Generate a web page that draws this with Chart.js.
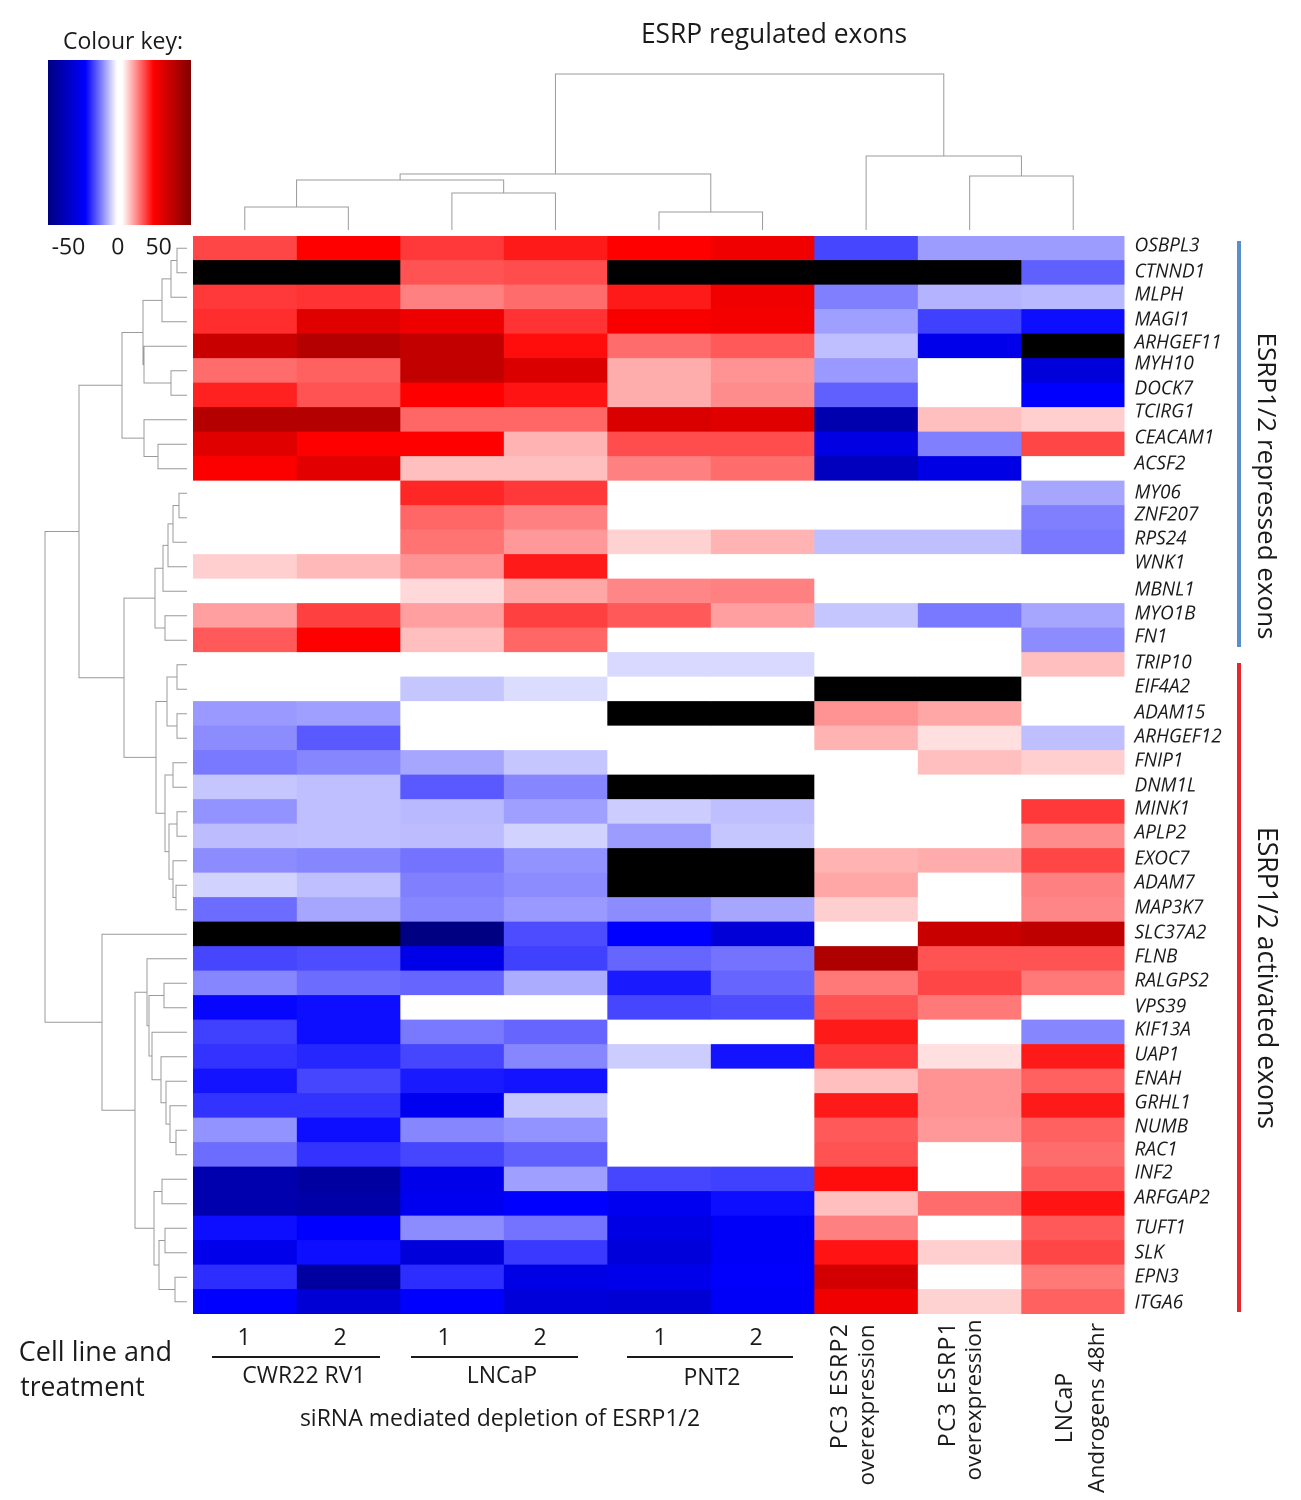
<!DOCTYPE html>
<html>
<head>
<meta charset="utf-8">
<title>ESRP regulated exons</title>
<script src="https://cdn.jsdelivr.net/npm/chart.js@4"></script>
<style>
  html, body { margin: 0; background: #fff; }
  #page { position: relative; width: 1301px; height: 1500px; overflow: hidden; font-family: "Open Sans", sans-serif; color: #1a1a1a; }
  canvas { position: absolute; }
  .t { position: absolute; white-space: nowrap; transform: translate(-50%, -50%); font-size: 23px; line-height: 1; }
  .up { transform: translate(-50%, -50%) rotate(-90deg); }
  .down { transform: translate(-50%, -50%) rotate(90deg); }
  .rule { position: absolute; }
</style>
</head>
<body>
<div id="page">
  <canvas id="heatmap" width="1301" height="1500" style="left:0;top:0"></canvas>
  <canvas id="colTree" width="932" height="170" style="left:193px;top:60px"></canvas>
  <canvas id="rowTree" width="160" height="1078" style="left:27px;top:236px"></canvas>
  <canvas id="colourKey" width="240" height="262" style="left:0;top:0"></canvas>

  <div class="t" style="left:123px;top:40px">Colour key:</div>
  <div class="t" style="left:774px;top:33px;font-size:26.4px">ESRP regulated exons</div>

  <div class="rule" style="left:1237px;top:241px;width:4px;height:406px;background:#5b8fc9"></div>
  <div class="rule" style="left:1237px;top:663px;width:4px;height:649px;background:#e8262e"></div>
  <div class="t down" style="left:1268px;top:486px;font-size:26px">ESRP1/2 repressed exons</div>
  <div class="t down" style="left:1268px;top:978px;font-size:26.6px">ESRP1/2 activated exons</div>

  <div class="t" style="left:95.5px;top:1350px;font-size:27px">Cell line and</div>
  <div class="t" style="left:82.5px;top:1386px;font-size:26.5px">treatment</div>

  <div class="t" style="left:244px;top:1336px">1</div>
  <div class="t" style="left:340px;top:1336px">2</div>
  <div class="t" style="left:444px;top:1336px">1</div>
  <div class="t" style="left:540px;top:1336px">2</div>
  <div class="t" style="left:660px;top:1336px">1</div>
  <div class="t" style="left:756px;top:1336px">2</div>

  <div class="rule" style="left:212px;top:1356px;width:168px;height:2px;background:#1a1a1a"></div>
  <div class="rule" style="left:411px;top:1356px;width:167px;height:2px;background:#1a1a1a"></div>
  <div class="rule" style="left:627px;top:1356px;width:166px;height:2px;background:#1a1a1a"></div>

  <div class="t" style="left:304px;top:1374px">CWR22 RV1</div>
  <div class="t" style="left:502px;top:1374px">LNCaP</div>
  <div class="t" style="left:712px;top:1376px">PNT2</div>
  <div class="t" style="left:500px;top:1417px">siRNA mediated depletion of ESRP1/2</div>

  <div class="t up" style="left:838px;top:1386px;font-size:23px;letter-spacing:1.4px">PC3 ESRP2</div>
  <div class="t up" style="left:866px;top:1405px;font-size:22.5px">overexpression</div>
  <div class="t up" style="left:946px;top:1384px;font-size:23px;letter-spacing:1.4px">PC3 ESRP1</div>
  <div class="t up" style="left:973px;top:1400px;font-size:22.5px">overexpression</div>
  <div class="t up" style="left:1063px;top:1408px;font-size:23px">LNCaP</div>
  <div class="t up" style="left:1096px;top:1408px;font-size:22.7px">Androgens 48hr</div>
</div>

<script>
const genes = ['OSBPL3', 'CTNND1', 'MLPH', 'MAGI1', 'ARHGEF11', 'MYH10', 'DOCK7', 'TCIRG1', 'CEACAM1', 'ACSF2',
  'MY06', 'ZNF207', 'RPS24', 'WNK1', 'MBNL1', 'MYO1B', 'FN1', 'TRIP10', 'EIF4A2', 'ADAM15', 'ARHGEF12', 'FNIP1',
  'DNM1L', 'MINK1', 'APLP2', 'EXOC7', 'ADAM7', 'MAP3K7', 'SLC37A2', 'FLNB', 'RALGPS2', 'VPS39', 'KIF13A', 'UAP1',
  'ENAH', 'GRHL1', 'NUMB', 'RAC1', 'INF2', 'ARFGAP2', 'TUFT1', 'SLK', 'EPN3', 'ITGA6'];

const samples = ['CWR22 1', 'CWR22 2', 'LNCaP 1', 'LNCaP 2', 'PNT2 1', 'PNT2 2', 'PC3 ESRP2', 'PC3 ESRP1', 'LNCaP Androgens'];

// one row per gene, one value per sample; null = no data (black)
const psi = [
  [29, 40, 31, 36, 40, 45, -29, -15.5, -15.5],
  [null, null, 27, 28, null, null, null, null, -25],
  [31, 32, 20, 23, 36, 45, -20, -12, -11],
  [33, 51, 46, 32, 42, 44, -15, -30, -38],
  [59, 66, 61, 38, 23, 26, -10, -47, null],
  [23, 25, 61, 53, 13, 17, -16, 0, -53],
  [35, 27, 40, 37, 13, 18, -25, 0, -40],
  [66, 66, 24, 24, 53, 51, -68, 10, 7.5],
  [51, 40, 40, 12, 28, 28, -50, -20, 29],
  [41, 50, 10, 10, 20, 23, -63, -49, 0],
  [0, 0, 34, 31, 0, 0, 0, 0, -14],
  [0, 0, 24, 20, 0, 0, 0, 0, -20],
  [0, 0, 22, 16, 7, 12, -10, -10, -21],
  [7.5, 11, 17, 36, 0, 0, 0, 0, 0],
  [0, 0, 6, 14, 19, 20, 0, 0, 0],
  [15, 30, 15, 30, 26, 15, -9, -21, -14],
  [26, 40, 10, 24, 0, 0, 0, 0, -18],
  [0, 0, 0, 0, -6, -6, 0, 0, 10],
  [0, 0, -9, -5.5, 0, 0, null, null, 0],
  [-16, -15, 0, 0, null, null, 17, 14, 0],
  [-18, -26, 0, 0, 0, 0, 12, 5, -10],
  [-21, -19, -14, -9, 0, 0, 0, 10, 7.5],
  [-9, -10, -26, -19, null, null, 0, 0, 0],
  [-17, -10, -11, -15, -8, -10, 0, 0, 31],
  [-10.5, -10, -10.5, -7, -15.5, -9, 0, 0, 18],
  [-18, -19, -22, -17, null, null, 12, 13, 29],
  [-7, -10, -20, -18, null, null, 14, 0, 20],
  [-23, -14, -19, -16, -18, -14, 7.5, 0, 19],
  [null, null, -84, -28, -40, -54, 0, 59, 63],
  [-29, -28, -48, -30, -24, -22, 68, 27, 27],
  [-19, -23, -24, -13, -36, -24, 21, 29, 21],
  [-39, -38, 0, 0, -29, -28, 27, 21, 0],
  [-30, -38, -21, -24, 0, 0, 36, 0, -19],
  [-32, -34, -29, -19, -8, -37, 31, 5, 36],
  [-37, -29, -36, -37, 0, 0, 10, 17, 25],
  [-32, -32, -45, -9, 0, 0, 36, 17, 36],
  [-17, -38, -19, -17, 0, 0, 26, 16, 25],
  [-23, -32, -29, -25, 0, 0, 27, 0, 23],
  [-68, -73, -47, -15, -29, -30, 38, 0, 26],
  [-68, -71, -45, -40, -45, -38, 10, 23, 37],
  [-38, -40, -18, -22, -49, -42, 20, 0, 26],
  [-47, -38, -53, -31, -53, -42, 37, 7.5, 29],
  [-33, -73, -33, -49, -47, -41, 56, 0, 21],
  [-40, -55, -40, -53, -55, -42, 45, 7, 25]
];

// gene labels sit a little off the row centres in the figure (row units)
const geneLabelRows = [0.41, 1.47, 2.41, 3.43, 4.37, 5.22, 6.24, 7.18, 8.24, 9.31, 10.49, 11.39, 12.37, 13.35, 14.45,
  15.43, 16.37, 17.43, 18.41, 19.47, 20.45, 21.43, 22.45, 23.39, 24.37, 25.43, 26.41, 27.43, 28.45, 29.43, 30.41,
  31.47, 32.41, 33.43, 34.41, 35.39, 36.37, 37.31, 38.24, 39.27, 40.49, 41.51, 42.49, 43.55];

// hclust style merges: negative = leaf (1 based), positive = earlier merge, then height
const colMerges = [
  [-1, -2, 23], [-3, -4, 37], [1, 2, 50], [-5, -6, 18], [3, 4, 56],
  [-8, -9, 54], [-7, 6, 74], [5, 7, 156]
];

const rowMerges = [
  [-1, -2, 10], [1, -3, 16], [2, -4, 25], [-6, -7, 16], [-5, 4, 43], [3, 5, 44], [-9, -10, 29], [-8, 7, 43], [6, 8, 65],
  [-11, -12, 8], [10, -13, 14], [11, -14, 19], [12, -15, 24], [-16, -17, 22], [13, 14, 32],
  [-18, -19, 10], [-20, -21, 10], [16, 17, 20], [-22, -23, 14], [-24, -25, 10], [-27, -28, 11], [-26, 21, 14],
  [20, 22, 18], [19, 23, 22], [18, 24, 31], [15, 25, 63], [9, 26, 108],
  [-31, -32, 23], [-37, -38, 11], [-36, 29, 17], [-35, 30, 21], [-34, 31, 26], [-33, 32, 35], [28, 33, 38], [-30, 34, 40],
  [-39, -40, 25], [-41, -42, 22], [-43, -44, 12], [37, 38, 28], [36, 39, 33], [35, 40, 52], [-29, 41, 85], [27, 42, 142]
];

const keyTicks = ['-50', '0', '50'];
const keyTickRows = [-60, -2, 46]; // the key's labels are shifted left of their tick marks in the figure

function mix(a, b, t) {
  return a.map((v, i) => Math.round(v + (b[i] - v) * t));
}

// white -> pure at +/-40 -> dark at +/-84
function colourFor(v) {
  if (v === null) return '#000';
  const hue = v < 0 ? [0, 0, 255] : [255, 0, 0];
  const dark = v < 0 ? [0, 0, 130] : [130, 0, 0];
  const abs = Math.abs(v);
  const c = abs <= 40 ? mix([255, 255, 255], hue, abs / 40) : mix(hue, dark, Math.min(1, (abs - 40) / 44));
  return `rgb(${c[0]}, ${c[1]}, ${c[2]})`;
}

// turn merges into one 4 point polyline each
function treeSegments(merges) {
  const nodes = merges.map(() => null);
  const read = ref => (ref < 0 ? { pos: -ref - 0.5, h: 0 } : nodes[ref - 1]);
  return merges.map((m, i) => {
    const a = read(m[0]);
    const b = read(m[1]);
    nodes[i] = { pos: (a.pos + b.pos) / 2, h: m[2] };
    return [[a.pos, a.h], [a.pos, m[2]], [b.pos, m[2]], [b.pos, b.h]];
  });
}

Chart.defaults.animation = false;
Chart.defaults.responsive = false;
Chart.defaults.devicePixelRatio = 2;
Chart.defaults.font.family = '"Open Sans", sans-serif';
Chart.defaults.plugins.legend.display = false;
Chart.defaults.plugins.tooltip.enabled = false;

new Chart(document.getElementById('heatmap'), {
  type: 'bar',
  data: {
    labels: genes,
    datasets: samples.map((name, c) => ({
      label: name,
      data: genes.map(() => [c, c + 1]),
      backgroundColor: psi.map(row => colourFor(row[c])),
      borderWidth: 0,
      grouped: false,
      barPercentage: 1,
      categoryPercentage: 1
    }))
  },
  options: {
    indexAxis: 'y',
    layout: { padding: { left: 193, top: 236, bottom: 186 } },
    scales: {
      x: { type: 'linear', min: 0, max: 9, display: false },
      y: { display: false },
      geneAxis: {
        type: 'linear',
        position: 'right',
        min: 0,
        max: 44,
        reverse: true,
        offset: false, // picked up from the bar index axis defaults otherwise
        border: { display: false },
        grid: { display: false, drawTicks: false },
        afterBuildTicks: axis => { axis.ticks = geneLabelRows.map(v => ({ value: v })); },
        afterFit: axis => { axis.width = 176.5; },
        ticks: {
          autoSkip: false,
          padding: 10,
          color: '#1a1a1a',
          font: { size: 19, style: 'italic' },
          callback: (value, i) => genes[i]
        }
      }
    }
  }
});

function treeChart(id, segments, xScale, yScale, toPoint) {
  new Chart(document.getElementById(id), {
    type: 'scatter',
    data: {
      datasets: segments.map(seg => ({
        data: seg.map(toPoint),
        showLine: true,
        pointRadius: 0,
        borderWidth: 1,
        borderColor: '#9a9a9a',
        clip: false
      }))
    },
    options: { scales: { x: xScale, y: yScale } }
  });
}

treeChart('colTree', treeSegments(colMerges),
  { type: 'linear', min: 0, max: 9, display: false },
  { type: 'linear', min: 0, max: 170, display: false },
  p => ({ x: p[0], y: p[1] }));

treeChart('rowTree', treeSegments(rowMerges),
  { type: 'linear', min: 0, max: 160, reverse: true, display: false },
  { type: 'linear', min: 0, max: 44, reverse: true, display: false },
  p => ({ x: p[1], y: p[0] }));

new Chart(document.getElementById('colourKey'), {
  type: 'bar',
  data: {
    labels: ['key'],
    datasets: [{
      data: [[-84, 84]],
      barPercentage: 1,
      categoryPercentage: 1,
      borderWidth: 0,
      backgroundColor: ctx => {
        const { chart } = ctx;
        if (!chart.chartArea) return '#fff';
        const x = chart.scales.x;
        const grad = chart.ctx.createLinearGradient(x.getPixelForValue(-84), 0, x.getPixelForValue(84), 0);
        [-84, -40, -3, 3, 40, 84].forEach(v => {
          const shade = Math.abs(v) === 3 ? 0 : v;
          grad.addColorStop((v + 84) / 168, colourFor(shade));
        });
        return grad;
      }
    }]
  },
  options: {
    indexAxis: 'y',
    layout: { padding: { left: 48, right: 49, top: 60 } },
    scales: {
      y: { display: false },
      x: {
        type: 'linear',
        min: -84,
        max: 84,
        border: { display: false },
        grid: { display: false, drawTicks: false },
        afterBuildTicks: axis => { axis.ticks = keyTickRows.map(v => ({ value: v })); },
        afterFit: axis => { axis.height = 37; },
        ticks: {
          autoSkip: false,
          maxRotation: 0,
          padding: 9,
          color: '#1a1a1a',
          font: { size: 23 },
          callback: (value, i) => keyTicks[i]
        }
      }
    }
  }
});
</script>
</body>
</html>
